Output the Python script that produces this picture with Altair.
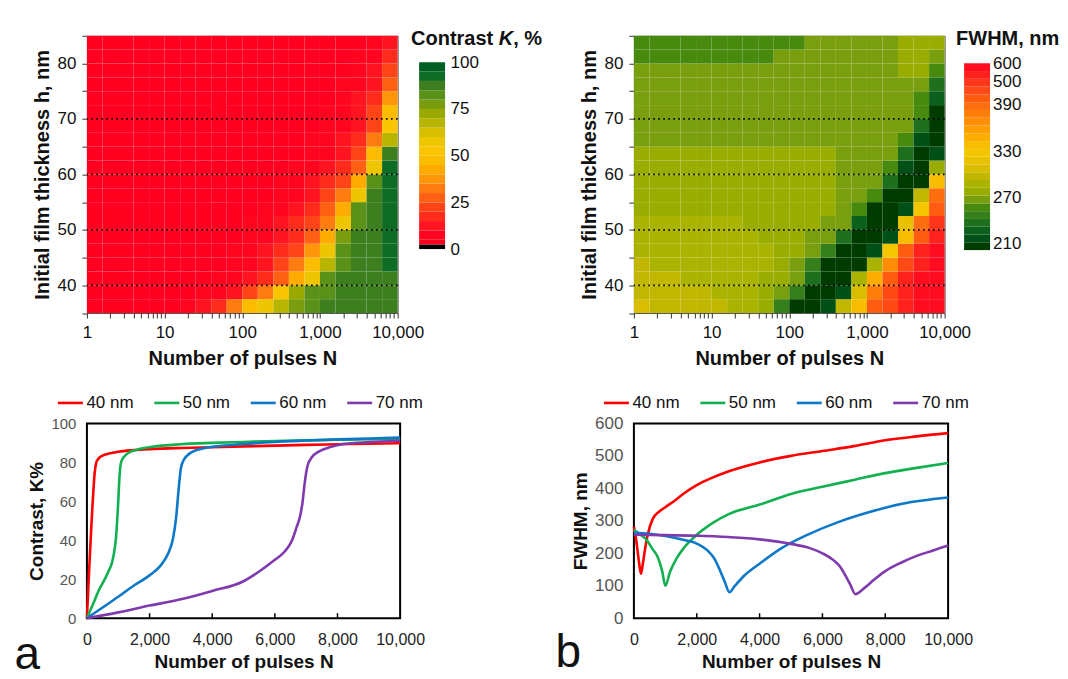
import altair as alt
import pandas as pd

FONT = "Liberation Sans"

# ---------------- map grid (cell edges) ----------------
N_EDGES = [1, 1.585, 2.512, 3.981, 6.31, 10, 15.85, 25.12, 39.81, 63.1,
           100, 158.5, 251.2, 398.1, 631, 1000, 1585, 2512, 3981, 6310, 10000]
H_EDGES = [35, 37.5, 40, 42.5, 45, 47.5, 50, 52.5, 55, 57.5,
           60, 62.5, 65, 67.5, 70, 72.5, 75, 77.5, 80, 82.5, 85]

# contrast K (%) per cell, rows from h=35 (bottom) to h=85 (top)
CONTRAST_ROWS = [
    [4, 4, 4, 4, 4, 4, 6, 10, 18, 32, 48, 55, 65, 76, 82, 86, 87, 87, 88, 88],
    [4, 4, 4, 4, 4, 4, 4, 6, 9, 13, 20, 30, 50, 72, 81, 84, 86, 87, 88, 88],
    [4, 4, 4, 4, 4, 4, 4, 4, 5, 8, 12, 18, 26, 40, 58, 80, 85, 87, 88, 89],
    [4, 4, 4, 4, 4, 4, 4, 4, 4, 6, 9, 14, 20, 30, 45, 68, 84, 87, 88, 91],
    [4, 4, 4, 4, 4, 4, 4, 4, 4, 5, 7, 11, 16, 24, 36, 55, 82, 86, 88, 92],
    [4, 4, 4, 4, 4, 4, 4, 4, 4, 4, 6, 9, 13, 19, 28, 44, 78, 86, 89, 92],
    [4, 4, 4, 4, 4, 4, 4, 4, 4, 4, 5, 7, 10, 15, 22, 33, 56, 84, 89, 92],
    [4, 4, 4, 4, 4, 4, 4, 4, 4, 4, 4, 6, 8, 12, 17, 26, 44, 80, 89, 92],
    [4, 4, 4, 4, 4, 4, 4, 4, 4, 4, 4, 4, 6, 9, 13, 20, 32, 55, 88, 92],
    [4, 4, 4, 4, 4, 4, 4, 4, 4, 4, 4, 4, 5, 7, 10, 15, 24, 42, 80, 92],
    [4, 4, 4, 4, 4, 4, 4, 4, 4, 4, 4, 4, 4, 6, 8, 12, 18, 28, 56, 91],
    [4, 4, 4, 4, 4, 4, 4, 4, 4, 4, 4, 4, 4, 4, 6, 9, 14, 22, 45, 88],
    [4, 4, 4, 4, 4, 4, 4, 4, 4, 4, 4, 4, 4, 4, 5, 7, 11, 17, 30, 65],
    [4, 4, 4, 4, 4, 4, 4, 4, 4, 4, 4, 4, 4, 4, 4, 6, 9, 14, 24, 52],
    [4, 4, 4, 4, 4, 4, 4, 4, 4, 4, 4, 4, 4, 4, 4, 5, 8, 12, 20, 45],
    [4, 4, 4, 4, 4, 4, 4, 4, 4, 4, 4, 4, 4, 4, 4, 4, 6, 10, 16, 36],
    [4, 4, 4, 4, 4, 4, 4, 4, 4, 4, 4, 4, 4, 4, 4, 4, 5, 8, 13, 26],
    [4, 4, 4, 4, 4, 4, 4, 4, 4, 4, 4, 4, 4, 4, 4, 4, 4, 6, 10, 20],
    [4, 4, 4, 4, 4, 4, 4, 4, 4, 4, 4, 4, 4, 4, 4, 4, 4, 5, 8, 15],
    [4, 4, 4, 4, 4, 4, 4, 4, 4, 4, 4, 4, 4, 4, 4, 4, 4, 4, 6, 12],
]

# FWHM (nm) per cell, rows from h=35 (bottom) to h=85 (top)
FWHM_ROWS = [
    [300, 295, 295, 295, 295, 290, 285, 285, 272, 245, 200, 205, 215, 290, 330, 390, 460, 530, 570, 590],
    [295, 295, 295, 295, 290, 285, 285, 285, 278, 262, 240, 205, 200, 215, 300, 370, 440, 520, 570, 590],
    [295, 295, 295, 285, 285, 285, 285, 285, 278, 275, 268, 232, 200, 200, 280, 340, 400, 500, 550, 580],
    [290, 285, 285, 285, 285, 285, 285, 285, 280, 275, 266, 240, 205, 200, 200, 280, 360, 440, 520, 570],
    [285, 285, 285, 285, 285, 285, 285, 285, 280, 275, 272, 265, 240, 200, 200, 215, 320, 400, 510, 570],
    [285, 285, 285, 285, 285, 285, 285, 282, 276, 275, 273, 266, 263, 230, 200, 200, 215, 330, 420, 530],
    [285, 285, 285, 285, 285, 285, 280, 275, 275, 275, 275, 270, 265, 262, 225, 200, 200, 310, 380, 480],
    [275, 275, 275, 275, 275, 275, 275, 275, 275, 275, 275, 275, 270, 265, 258, 205, 200, 210, 320, 420],
    [275, 275, 275, 275, 275, 275, 275, 275, 275, 275, 275, 275, 275, 268, 265, 250, 200, 200, 290, 380],
    [275, 275, 275, 275, 275, 275, 275, 275, 275, 275, 275, 275, 275, 267, 265, 262, 232, 200, 205, 330],
    [275, 275, 275, 275, 275, 275, 275, 275, 275, 275, 275, 275, 275, 266, 265, 265, 250, 210, 200, 275],
    [273, 273, 273, 273, 273, 273, 273, 273, 273, 273, 273, 273, 273, 265, 265, 265, 262, 235, 200, 215],
    [265, 265, 265, 265, 265, 265, 265, 265, 265, 265, 265, 265, 265, 265, 265, 265, 265, 255, 215, 205],
    [265, 265, 265, 265, 265, 265, 265, 265, 265, 265, 265, 265, 265, 265, 265, 265, 265, 262, 235, 200],
    [265, 265, 265, 265, 265, 265, 265, 265, 265, 265, 265, 265, 265, 265, 265, 265, 265, 265, 250, 205],
    [265, 265, 265, 265, 265, 265, 265, 265, 265, 265, 265, 265, 265, 265, 265, 265, 265, 265, 258, 222],
    [265, 265, 265, 265, 265, 265, 265, 265, 265, 265, 265, 265, 265, 265, 265, 265, 265, 265, 262, 235],
    [265, 265, 265, 265, 265, 265, 265, 265, 265, 265, 265, 265, 265, 265, 265, 265, 265, 275, 272, 250],
    [255, 255, 255, 255, 255, 255, 255, 255, 255, 265, 265, 265, 265, 265, 265, 265, 265, 275, 275, 265],
    [255, 255, 255, 255, 255, 255, 255, 255, 255, 255, 255, 265, 265, 265, 265, 265, 265, 275, 275, 270],
]

for _rows in (CONTRAST_ROWS, FWHM_ROWS):
    assert len(_rows) == 20 and all(len(r) == 20 for r in _rows)

# colour bands
K_EDGES = [0, 2.5, 5, 10, 15, 20, 25, 30, 35, 40, 45, 50, 55, 60, 65, 70, 75, 80, 85, 90, 95, 100]
K_COLORS = ["#000000", "#ff0020", "#ff0520", "#ff1420", "#ff2c1c", "#ff4418", "#ff6014",
            "#ff7c10", "#ff960a", "#ffab00", "#fcbc00", "#f8c500", "#eec600", "#d6bf00",
            "#b8b500", "#9aa900", "#7a9d10", "#5a9118", "#3d7f1e", "#0f6c24", "#005f22"]
K_BAR_LABELS = [0, 25, 50, 75, 100]

F_EDGES = [200, 210, 220, 230, 240, 250, 260, 270, 280, 290, 300, 310, 320, 330, 340,
           350, 360, 370, 380, 390, 427, 463, 500, 550, 600]
F_COLORS = ["#003c00", "#005018", "#0c601e", "#1f701e", "#35801a", "#488a0e", "#799e0e",
            "#98ad00", "#a9b300", "#c2b700", "#d8bd00", "#e8c200", "#f4c600", "#f9bd00",
            "#fcad00", "#ff9e00", "#ff8e06", "#ff7e0a", "#ff6e0e", "#ff5c12", "#ff4a16",
            "#ff3619", "#ff221c", "#ff0c20"]
F_BAR_LABELS = [210, 270, 330, 390, 500, 600]
F_BAR_LABEL_POS = [0.9, 6.8, 12.7, 18.7, 21.6, 24.0]   # where each label sits along the bar

GRID_H = [40, 50, 60, 70]
X_MAJOR = [1, 10, 100, 1000, 10000]
Y_MAP_TICKS = [35, 40, 45, 50, 55, 60, 65, 70, 75, 80, 85]
Y_MAP_LABELS = [40, 50, 60, 70, 80]

# ---------------- line charts ----------------
SERIES = ["40 nm", "50 nm", "60 nm", "70 nm"]
SERIES_COLORS = ["#FF0000", "#12B050", "#0E78C8", "#7F3AAE"]
LINE_X_TICKS = [0, 2000, 4000, 6000, 8000, 10000]
K_Y_TICKS = [0, 20, 40, 60, 80, 100]
F_Y_TICKS = [0, 100, 200, 300, 400, 500, 600]

K40_N = [0, 50, 100, 150, 200, 250, 300, 350, 400, 500, 700, 1000, 1500, 2000, 3000, 4000, 5000, 6000, 7000, 8000, 9000, 10000]
K40_V = [0, 18, 34, 50, 64, 75, 80, 81.5, 82.5, 83.5, 84.5, 85.5, 86.3, 86.8, 87.4, 87.8, 88.2, 88.6, 89, 89.3, 89.6, 89.8]
K50_N = [0, 200, 400, 600, 700, 800, 870, 920, 950, 980, 1000, 1030, 1060, 1100, 1200, 1400, 1700, 2000, 3000, 4000, 5000, 6000, 7000, 8000, 9000, 10000]
K50_V = [0, 7.5, 15, 21, 24.5, 28.5, 34, 40, 46, 54, 60, 70, 77, 80.5, 83.2, 85.5, 87, 87.8, 89.3, 90, 90.5, 91, 91.3, 91.6, 91.9, 92.2]
K60_N = [0, 500, 1000, 1500, 2000, 2350, 2600, 2750, 2850, 2900, 2950, 3000, 3100, 3200, 3350, 3600, 4000, 5000, 6000, 7000, 8000, 9000, 10000]
K60_V = [0, 5.5, 11, 16.8, 22, 27, 33.5, 41, 52, 61, 70, 77, 81.5, 83.5, 85.3, 86.8, 88, 89.4, 90.5, 91.2, 91.8, 92.3, 92.7]
K70_N = [0, 1000, 2000, 3000, 4000, 5000, 5500, 6000, 6300, 6550, 6700, 6800, 6880, 6950, 7040, 7180, 7400, 7800, 8200, 9000, 10000]
K70_V = [0, 3, 6.5, 9.7, 14, 19, 24, 30, 34, 40, 47, 52, 59, 69, 78, 82.6, 85.5, 88, 89.4, 90.4, 91.1]

F40_N = [0, 60, 120, 180, 227, 280, 350, 450, 600, 800, 1000, 1300, 1600, 2000, 2500, 3000, 4000, 5000, 6000, 7000, 8000, 9000, 10000]
F40_V = [282, 250, 205, 160, 137, 165, 210, 262, 306, 328, 342, 362, 385, 410, 433, 452, 480, 500, 515, 530, 548, 560, 570]
F50_N = [0, 200, 400, 600, 750, 900, 1000, 1150, 1350, 1600, 2000, 2500, 3000, 4000, 5000, 6000, 7000, 8000, 9000, 10000]
F50_V = [272, 258, 242, 212, 190, 145, 100, 143, 183, 218, 257, 293, 320, 350, 383, 405, 426, 447, 463, 478]
F60_N = [0, 500, 1000, 1500, 2000, 2350, 2570, 2750, 2900, 3040, 3200, 3500, 4000, 4700, 5500, 6500, 7500, 8500, 10000]
F60_V = [263, 260, 253, 243, 230, 208, 182, 145, 110, 80, 98, 130, 168, 216, 256, 296, 327, 352, 372]
F70_N = [0, 1000, 2000, 3000, 4000, 5000, 5600, 6000, 6350, 6570, 6730, 6890, 7050, 7320, 7650, 8000, 8500, 9000, 9500, 10000]
F70_V = [257, 256, 254, 250, 243, 229, 216, 200, 179, 158, 132, 103, 74, 92, 119, 145, 171, 192, 208, 224]

# ---------------- layout constants ----------------
PW, PH = 311, 277.5
LW1, LW2, LH = 313.5, 314.5, 195
DUMMY = pd.DataFrame({"d": [0]})


def grid_frame(rows, field):
    recs = []
    for r, row in enumerate(rows):
        for c, v in enumerate(row):
            recs.append({"n0": N_EDGES[c], "n1": N_EDGES[c + 1],
                         "h0": H_EDGES[r], "h1": H_EDGES[r + 1], field: v})
    return pd.DataFrame(recs)


def series_frame(pairs):
    recs = []
    for name, ns, vs in pairs:
        assert len(ns) == len(vs)
        for n, v in zip(ns, vs):
            recs.append({"series": name, "N": n, "v": v})
    return pd.DataFrame(recs)


x_ticks = [m * d for d in X_MAJOR[:-1] for m in range(1, 10)] + [X_MAJOR[-1]]
x_label_expr = f"indexof({X_MAJOR}, datum.value) >= 0 ? format(datum.value, ',d') : ''"
y_label_expr = f"indexof({Y_MAP_LABELS}, datum.value) >= 0 ? '' + datum.value : ''"


def map_panel(df, field, cscale, bar_df, bar_dom, bar_vals, bar_expr, bar_x0, bar_x1,
              bar_pad, title_parts, title_x):
    xax = alt.Axis(values=x_ticks, labelExpr=x_label_expr, labelFlush=False, labelOverlap=False,
                   tickSize=5, tickColor="#333", domain=False, grid=False,
                   labelFontSize=17, labelColor="#111", labelPadding=6.5,
                   title="Number of pulses N", titleFontSize=20, titleFontWeight="bold",
                   titlePadding=8.5, titleColor="#111")
    yax = alt.Axis(values=Y_MAP_TICKS, labelExpr=y_label_expr, tickSize=5, tickColor="#333",
                   domain=False, grid=False, labelFontSize=17, labelColor="#111", labelPadding=6,
                   labelOverlap=False,
                   title="Initial film thickness h, nm", titleFontSize=20, titleFontWeight="bold",
                   titlePadding=5, titleColor="#111")
    xs = alt.Scale(type="log", domain=[1, 10000], nice=False)
    ys = alt.Scale(domain=[35, 85], nice=False, zero=False)
    cells = alt.Chart(df).mark_rect().encode(
        x=alt.X("n0:Q", scale=xs, axis=xax),
        x2="n1:Q",
        y=alt.Y("h0:Q", scale=ys, axis=yax),
        y2="h1:Q",
        color=alt.Color(f"{field}:Q", scale=cscale, legend=None),
    )
    grid = alt.Chart(pd.DataFrame({"h0": GRID_H})).mark_rule(
        color="black", strokeDash=[1.6, 3.4], strokeWidth=1.8
    ).encode(y=alt.Y("h0:Q", scale=ys, axis=yax))
    bar = alt.Chart(bar_df).mark_rect().encode(
        x=alt.value(bar_x0), x2=alt.value(bar_x1),
        y=alt.Y("b0:Q", scale=alt.Scale(domain=bar_dom, nice=False, zero=False),
                axis=alt.Axis(orient="right", offset=bar_x1 - PW, values=bar_vals,
                              labelExpr=bar_expr, domain=False, ticks=False, grid=False,
                              labelOverlap=False, labelFontSize=17, labelColor="#111",
                              labelPadding=bar_pad, title=None)),
        y2="b1:Q",
        color=alt.Color("mid:Q", scale=cscale, legend=None),
    )
    texts = []
    for txt, dx, style in title_parts:
        texts.append(alt.Chart(DUMMY).mark_text(
            text=txt, align="left", baseline="alphabetic", fontSize=20, fontWeight="bold",
            fontStyle=style, color="#111"
        ).encode(x=alt.value(title_x + dx), y=alt.value(9.5)))
    return alt.layer(alt.layer(cells, grid), bar, *texts).resolve_scale(y="independent").properties(
        width=PW, height=PH, view=alt.ViewBackground(stroke="#555", strokeWidth=1))


def line_panel(df, ytitle, ydom, yvals, ylabsize, width, legend_x, letter, letter_x, letter_y):
    legend = alt.Legend(orient="none", legendX=legend_x, legendY=-34.5, direction="horizontal",
                        title=None, symbolType="stroke", symbolSize=625, symbolStrokeWidth=2.6,
                        labelFontSize=17, labelColor="#111", labelOffset=2, columnPadding=14.5,
                        padding=0, labelLimit=0)
    xdef = alt.X("N:Q", scale=alt.Scale(domain=[0, 10000], nice=False),
                 axis=alt.Axis(values=LINE_X_TICKS, format=",d", labelFlush=False, labelOverlap=False,
                               tickSize=0, domain=False, grid=False, labelFontSize=16,
                               labelColor="#222", labelPadding=13, title="Number of pulses N",
                               titleFontSize=19, titleFontWeight="bold", titlePadding=5.5,
                               titleColor="#111"))
    ydef = alt.Y("v:Q", scale=alt.Scale(domain=ydom, nice=False),
                 axis=alt.Axis(values=yvals, tickSize=0, domain=False, grid=False,
                               labelFontSize=ylabsize, labelColor="#555", labelPadding=11,
                               title=ytitle, titleFontSize=19, titleFontWeight="bold",
                               titlePadding=4, titleColor="#111"))
    lines = alt.Chart(df).mark_line(strokeWidth=2.6, interpolate="monotone").encode(
        x=xdef, y=ydef,
        color=alt.Color("series:N", scale=alt.Scale(domain=SERIES, range=SERIES_COLORS),
                        legend=legend, sort=SERIES),
    )
    ticks = alt.Chart(pd.DataFrame({"N": LINE_X_TICKS[1:-1]})).mark_rule(
        color="black", strokeWidth=1.5
    ).encode(x=xdef, y=alt.value(LH - 5), y2=alt.value(LH))
    let = alt.Chart(DUMMY).mark_text(
        text=letter, fontSize=46, align="left", baseline="alphabetic", color="#111"
    ).encode(x=alt.value(letter_x), y=alt.value(letter_y))
    return alt.layer(lines, ticks, let).properties(
        width=width, height=LH, view=alt.ViewBackground(stroke="black", strokeWidth=2))


# ---------------- build ----------------
k_scale = alt.Scale(type="threshold", domain=K_EDGES[1:-1], range=K_COLORS)
f_scale = alt.Scale(type="threshold", domain=F_EDGES[1:-1], range=F_COLORS)

k_bar = pd.DataFrame({"b0": K_EDGES[:-1], "b1": K_EDGES[1:],
                      "mid": [(a + b) / 2 for a, b in zip(K_EDGES[:-1], K_EDGES[1:])]})
f_bar = pd.DataFrame({"b0": list(range(len(F_EDGES) - 1)), "b1": list(range(1, len(F_EDGES))),
                      "mid": [(a + b) / 2 for a, b in zip(F_EDGES[:-1], F_EDGES[1:])]})
f_expr = " : ".join(f"datum.value == {p} ? '{v}'" for p, v in zip(F_BAR_LABEL_POS, F_BAR_LABELS)) + " : ''"
k_expr = "'' + datum.value"

map1 = map_panel(grid_frame(CONTRAST_ROWS, "K"), "K", k_scale, k_bar, [-34.23, 114.17],
                 K_BAR_LABELS, k_expr, 332.5, 358.5, 5,
                 [("Contrast ", 0, "normal"), ("K", 87.8, "italic"), (", %", 102.2, "normal")], 324.5)
map2 = map_panel(grid_frame(FWHM_ROWS, "F"), "F", f_scale, f_bar, [-8.086, 27.529],
                 F_BAR_LABEL_POS, f_expr, 330.5, 356.5, 2.5, [("FWHM, nm", 0, "normal")], 322.5)

k_df = series_frame([("40 nm", K40_N, K40_V), ("50 nm", K50_N, K50_V),
                     ("60 nm", K60_N, K60_V), ("70 nm", K70_N, K70_V)])
f_df = series_frame([("40 nm", F40_N, F40_V), ("50 nm", F50_N, F50_V),
                     ("60 nm", F60_N, F60_V), ("70 nm", F70_N, F70_V)])

line1 = line_panel(k_df, "Contrast, K%", [0, 100], K_Y_TICKS, 15, LW1, -30.5, "a", -72.5, 246)
line2 = line_panel(f_df, "FWHM, nm", [0, 600], F_Y_TICKS, 17, LW2, -31.5, "b", -78.5, 244)

chart = alt.concat(map1, map2, line1, line2, columns=2,
                   spacing={"row": 110, "column": 233.5}, bounds="flush").properties(
    padding={"left": 5, "top": 17.5, "right": 0, "bottom": 0}
).configure(font=FONT, background="white")

chart.save("out.html", embed_options={"renderer": "svg", "actions": False})
